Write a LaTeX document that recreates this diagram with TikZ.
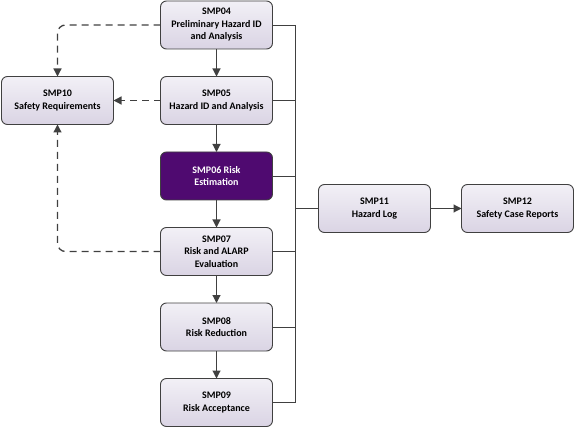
\documentclass[tikz,border=0pt]{standalone}
\usepackage{fontspec}
\setmainfont{Carlito}
\usetikzlibrary{positioning,arrows.meta}

\definecolor{boxTop}{HTML}{F2F0F6}
\definecolor{boxBottom}{HTML}{DAD4E4}
\definecolor{riskFill}{HTML}{4F0A70}
\definecolor{lineGray}{HTML}{404040}

\begin{document}
\begin{tikzpicture}[x=1pt, y=-1pt,
    smp/.style={draw=lineGray, line width=0.9pt, rounded corners=6pt, top color=boxTop, bottom color=boxBottom,
      minimum width=112pt, minimum height=48pt, outer sep=0pt, align=center, inner sep=2pt,
      font=\bfseries\fontsize{10}{12.5}\selectfont},
    smpdark/.style={smp, top color=riskFill, bottom color=riskFill, text=white},
    flow/.style={draw=lineGray, line width=1.1pt, -{Triangle[length=8pt, width=8pt]}},
    feed/.style={draw=lineGray, line width=0.9pt},
    reqarrow/.style={flow, line width=1.3pt, dash pattern=on 7pt off 5pt, rounded corners=8pt}
]

  % Define variables for the layout
  \def\rowGap{27.5}      % vertical gap between boxes of the main column
  \def\busX{295}         % x of the bus line feeding the hazard log

  \useasboundingbox (0,0) rectangle (578,430);

  % Main column of the process
  \node[smp] (p04) at (216.5,25) {SMP04\\Preliminary Hazard ID\\and Analysis};
  \node[smp, below=\rowGap pt of p04] (p05) {SMP05\\Hazard ID and Analysis};
  \node[smpdark, below=\rowGap pt of p05] (p06) {SMP06 Risk\\Estimation};
  \node[smp, below=\rowGap pt of p06] (p07) {SMP07\\Risk and ALARP\\Evaluation};
  \node[smp, below=\rowGap pt of p07] (p08) {SMP08\\Risk Reduction};
  \node[smp, below=\rowGap pt of p08] (p09) {SMP09\\Risk Acceptance};

  % Side boxes
  \node[smp, left=47pt of p05] (p10) {SMP10\\Safety Requirements};
  \node[smp] (p11) at (374.5,208.5) {SMP11\\Hazard Log};
  \node[smp, right=31pt of p11] (p12) {SMP12\\Safety Case Reports};

  % Flow down the column
  \draw[flow] (p04) -- (p05);
  \draw[flow] (p05) -- (p06);
  \draw[flow] (p06) -- (p07);
  \draw[flow] (p07) -- (p08);
  \draw[flow] (p08) -- (p09);
  \draw[flow] (p11) -- (p12);

  % Requirements fed back to SMP10
  \draw[reqarrow] (p04.west) -| (p10.north);
  \draw[reqarrow] (p05.west) -- (p10.east);
  \draw[reqarrow] (p07.west) -| (p10.south);

  % Bus line into the hazard log
  \coordinate (bus) at (\busX,0);
  \draw[feed] (p04.east -| bus) -- (p09.east -| bus);
  \foreach \p in {p04,p05,p06,p07,p08,p09}
    \draw[feed] (\p.east) -- (\p.east -| bus);
  \draw[feed] (p11.west -| bus) -- (p11.west);

\end{tikzpicture}
\end{document}
